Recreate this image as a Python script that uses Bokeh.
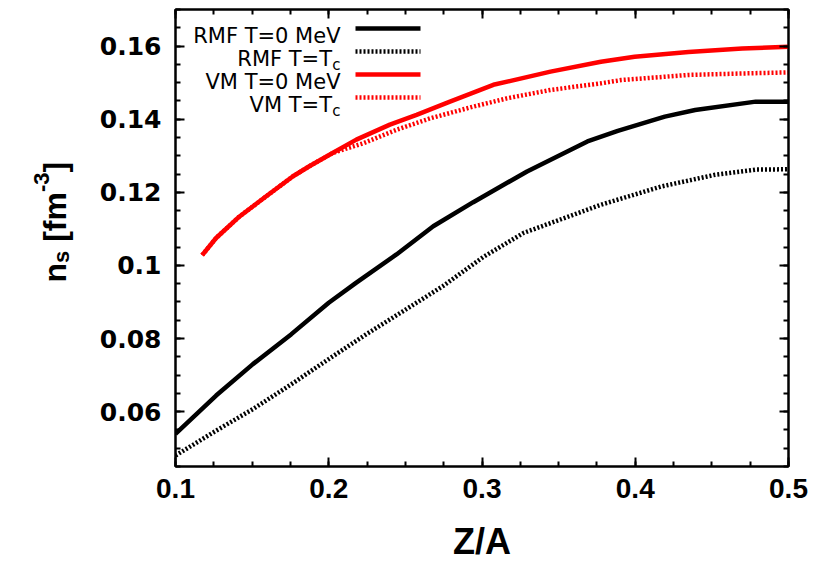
from bokeh.plotting import figure
from bokeh.layouts import row
from bokeh.models import (Range1d, FixedTicker, LinearAxis, Label, Arrow,
                          CustomJSTickFormatter)
from bokeh.embed import file_html
from bokeh.resources import INLINE
import math

# n_s versus Z/A for the RMF and VM models, at T=0 and at T=Tc
zx_rmf_t0 = [0.100, 0.1265, 0.1505, 0.1756, 0.200, 0.218, 0.2442, 0.2682, 0.2943,
             0.3294, 0.3688, 0.3886, 0.4193, 0.4391, 0.4786, 0.500]
ns_rmf_t0 = [0.0539, 0.0644, 0.0730, 0.0812, 0.0898, 0.0953, 0.1030, 0.1107, 0.1173,
             0.1257, 0.1339, 0.1368, 0.1407, 0.1425, 0.1448, 0.1448]

zx_rmf_tc = [0.100, 0.1265, 0.1505, 0.1756, 0.200, 0.2246, 0.2486, 0.2747, 0.3008,
             0.3272, 0.3776, 0.4171, 0.4522, 0.4786, 0.500]
ns_rmf_tc = [0.0480, 0.0548, 0.0607, 0.0675, 0.0744, 0.0812, 0.0875, 0.0944, 0.1023,
             0.1089, 0.1166, 0.1216, 0.1248, 0.1262, 0.1263]

zx_vm_t0 = [0.1174, 0.1265, 0.1418, 0.1592, 0.1767, 0.1876, 0.2028, 0.218, 0.2399,
            0.2573, 0.2791, 0.3074, 0.3447, 0.3776, 0.3996, 0.4347, 0.4698, 0.500]
ns_vm_t0 = [0.1028, 0.1075, 0.1134, 0.1189, 0.1244, 0.1272, 0.1308, 0.1344, 0.1385,
            0.1412, 0.1448, 0.1494, 0.1530, 0.1557, 0.1571, 0.1584, 0.1593, 0.1598]

zx_vm_tc = [0.1174, 0.1265, 0.1418, 0.1592, 0.1767, 0.1876, 0.2028, 0.2224, 0.2442,
            0.266, 0.294, 0.3163, 0.3447, 0.3776, 0.3908, 0.4347, 0.4698, 0.500]
ns_vm_tc = [0.1028, 0.1075, 0.1134, 0.1189, 0.1244, 0.1272, 0.1308, 0.1334, 0.1371,
            0.1402, 0.1434, 0.1457, 0.1480, 0.1498, 0.1507, 0.1521, 0.1525, 0.1528]

x_ticks = [0.1, 0.2, 0.3, 0.4, 0.5]
y_ticks = [0.06, 0.08, 0.10, 0.12, 0.14, 0.16]
x_minor = [0.1 + 0.025 * i for i in range(17)]
y_minor = [0.045 + 0.005 * i for i in range(26)]
y_tick_labels = {0.06: "0.06", 0.08: "0.08", 0.10: "0.1", 0.12: "0.12",
                 0.14: "0.14", 0.16: "0.16"}

series = [
    ("RMF T=0 MeV", None, zx_rmf_t0, ns_rmf_t0, "black", "solid"),
    ("RMF T=T", "c", zx_rmf_tc, ns_rmf_tc, "black", "2 2"),
    ("VM T=0 MeV", None, zx_vm_t0, ns_vm_t0, "red", "solid"),
    ("VM T=T", "c", zx_vm_tc, ns_vm_tc, "red", "2 2"),
]

TITLE_W = 96
FRAME_TOP, FRAME_H, BOTTOM = 9, 457, 97

p = figure(width=822 - TITLE_W, height=563, output_backend="svg",
           toolbar_location=None,
           x_range=Range1d(0.1, 0.5), y_range=Range1d(0.045, 0.17),
           min_border_left=173 - TITLE_W, min_border_right=36,
           min_border_top=FRAME_TOP, min_border_bottom=BOTTOM,
           frame_width=613, frame_height=FRAME_H,
           x_axis_location=None, y_axis_location=None)
p.grid.visible = False
p.outline_line_color = "black"
p.outline_line_width = 2
p.background_fill_color = "white"
p.border_fill_color = "white"

blank = CustomJSTickFormatter(code="return ''")


def style_axis(ax, labelled):
    ax.axis_line_width = 2
    ax.axis_line_color = "black"
    ax.major_tick_line_width = 2
    ax.minor_tick_line_width = 2
    ax.major_tick_in = 9
    ax.major_tick_out = 0
    ax.minor_tick_in = 5
    ax.minor_tick_out = 0
    ax.major_label_text_color = "black"
    ax.axis_label_text_color = "black"
    if not labelled:
        ax.formatter = blank
        ax.major_label_standoff = 0
        ax.major_label_text_font_size = "1px"


xb = LinearAxis(ticker=FixedTicker(ticks=x_ticks, minor_ticks=x_minor))
style_axis(xb, True)
xb.major_label_text_font = "Liberation Sans"
xb.major_label_text_font_style = "bold"
xb.major_label_text_font_size = "28px"
xb.major_label_standoff = 12
xb.axis_label = "Z/A"
xb.axis_label_text_font = "Liberation Sans"
xb.axis_label_text_font_style = "bold"
xb.axis_label_text_font_size = "36px"
xb.axis_label_standoff = 20
p.add_layout(xb, "below")

yl = LinearAxis(ticker=FixedTicker(ticks=y_ticks, minor_ticks=y_minor))
style_axis(yl, True)
yl.major_label_overrides = y_tick_labels
yl.major_label_text_font = "DejaVu Sans"
yl.major_label_text_font_style = "bold"
yl.major_label_text_font_size = "25px"
yl.major_label_standoff = 14
p.add_layout(yl, "left")

xt = LinearAxis(ticker=FixedTicker(ticks=x_ticks, minor_ticks=x_minor))
style_axis(xt, False)
p.add_layout(xt, "above")
yr = LinearAxis(ticker=FixedTicker(ticks=y_ticks, minor_ticks=y_minor))
style_axis(yr, False)
p.add_layout(yr, "right")

for name, sub, xs, ys, color, dash in series:
    p.line(xs, ys, line_color=color, line_width=4.5, line_dash=dash)

# legend block, top left inside the frame (screen units from frame's lower left)
for i, (name, sub, xs, ys, color, dash) in enumerate(series):
    base = FRAME_H - (26 + 23 * i)
    text_right = 165 if sub is None else 156.5
    p.add_layout(Label(x=text_right, y=base, x_units="screen", y_units="screen",
                       text=name, text_align="right", text_baseline="alphabetic",
                       text_font="DejaVu Sans", text_font_size="21px",
                       text_color="black"))
    if sub is not None:
        p.add_layout(Label(x=165, y=base - 6, x_units="screen", y_units="screen",
                           text=sub, text_align="right", text_baseline="alphabetic",
                           text_font="DejaVu Sans", text_font_size="15px",
                           text_color="black"))
    p.add_layout(Arrow(end=None, x_start=180, x_end=245, y_start=base + 7,
                       y_end=base + 7, start_units="screen", end_units="screen",
                       line_color=color, line_width=4.5, line_dash=dash))

# rotated y title n_s [fm^-3], in a strip to the left of the plot;
# the strip's frame lines up with the plot frame
tf = figure(width=TITLE_W, height=563, output_backend="svg", toolbar_location=None,
            x_range=Range1d(0, 1), y_range=Range1d(0, 1),
            min_border_left=0, min_border_right=0,
            min_border_top=FRAME_TOP, min_border_bottom=BOTTOM,
            frame_width=TITLE_W, frame_height=FRAME_H,
            x_axis_location=None, y_axis_location=None)
tf.grid.visible = False
tf.outline_line_color = None
tf.background_fill_color = "white"
tf.border_fill_color = "white"

# (text, font size px, baseline shift px, advance px along the title);
# each piece is anchored at its far (upper) end
title_parts = [("n", 32, 0, 19.6), ("s", 22, 7, 12.2), ("[fm", 32, 0, 49.7),
               ("-3", 22, -13, 19.6), ("]", 32, 0, 10.7)]
gaps = [0, 0, 8.9, 0, 0]
pos = (FRAME_TOP + FRAME_H) - 282
for (txt, size, shift, w), gap in zip(title_parts, gaps):
    pos += gap + w
    tf.add_layout(Label(x=54 + shift, y=pos, x_units="screen", y_units="screen",
                        text=txt, angle=math.pi / 2, text_align="right",
                        text_baseline="alphabetic", text_font="Liberation Sans",
                        text_font_style="bold", text_font_size=f"{size}px",
                        text_color="black"))

layout = row(tf, p, spacing=0)
open("out.html", "w").write(file_html(layout, INLINE))
